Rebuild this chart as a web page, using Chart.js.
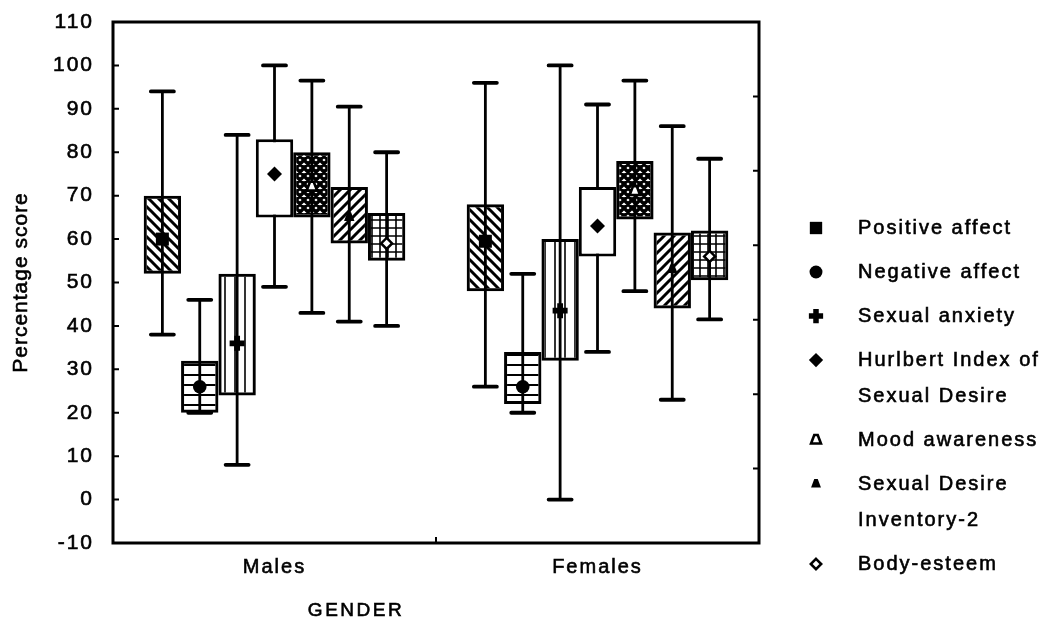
<!DOCTYPE html>
<html>
<head>
<meta charset="utf-8">
<script src="https://cdn.jsdelivr.net/npm/chart.js@4.4.1/dist/chart.umd.min.js"></script>
<style>
  html, body { margin: 0; padding: 0; background: #fff; }
  #wrap { width: 1057px; height: 633px; position: relative; }
</style>
</head>
<body>
<div id="wrap"><canvas id="chart"></canvas></div>
<script>
// groups on the x axis
const categories = ['Males', 'Females'];

// one entry per measure, in drawing order
const measures = [
  'Positive affect',
  'Negative affect',
  'Sexual anxiety',
  'Hurlbert Index of\nSexual Desire',
  'Mood awareness',
  'Sexual Desire\nInventory-2',
  'Body-esteem'
];

const maleBoxLow      = [52, 20, 24, 65, 65, 59, 55];
const maleBoxHigh     = [70, 32, 52, 83, 80, 72, 66];
const maleWhiskLow    = [38, 20, 8, 49, 43, 41, 40];
const maleWhiskHigh   = [94, 46, 84, 100, 96.5, 90.5, 80];
const maleMarker      = [60, 26, 36, 75, 72, 65, 59];

const femaleBoxLow    = [48, 22, 32, 56, 64.5, 44, 50.5];
const femaleBoxHigh   = [68, 34, 60, 72, 78, 61.5, 62];
const femaleWhiskLow  = [26, 20, 0, 34, 48, 23, 41.5];
const femaleWhiskHigh = [96, 52, 100, 91, 96.5, 86, 78.5];
const femaleMarker    = [59.5, 26, 43.5, 63, 71, 53, 56];

const yMin = -10;
const yMax = 110;
const yStep = 10;

const FONT = '"Liberation Sans", Arial, Helvetica, sans-serif';

// fill and marker style per measure
const fills   = ['diagDown', 'horiz', 'vert', 'white', 'cross', 'diagUp', 'grid'];
const markers = ['square', 'circle', 'plus', 'diamond', 'triOpen', 'tri', 'diamondOpen'];

function makePattern(kind) {
  if (kind === 'white') return '#ffffff';
  const s = kind === 'cross' ? 8 : (kind === 'grid' ? 8 : 10);
  const c = document.createElement('canvas');
  c.width = s; c.height = s;
  const g = c.getContext('2d');
  g.strokeStyle = '#000';
  g.lineCap = 'square';
  g.beginPath();
  if (kind === 'diagDown' || kind === 'cross') {
    for (let k = -s; k <= s; k += s) { g.moveTo(k, 0); g.lineTo(k + s, s); }
  }
  if (kind === 'diagUp' || kind === 'cross') {
    for (let k = -s; k <= s; k += s) { g.moveTo(k, s); g.lineTo(k + s, 0); }
  }
  if (kind === 'horiz' || kind === 'grid') { g.moveTo(0, s / 2); g.lineTo(s, s / 2); }
  if (kind === 'vert' || kind === 'grid') { g.moveTo(s / 2, 0); g.lineTo(s / 2, s); }
  g.lineWidth = kind === 'cross' ? 3.4 : (kind === 'diagDown' || kind === 'diagUp') ? 3 : (kind === 'horiz' ? 2 : 1.6);
  g.stroke();
  const tmp = document.createElement('canvas').getContext('2d');
  return tmp.createPattern(c, 'repeat');
}

function drawMarker(ctx, kind, x, y, scale) {
  const k = scale || 1;
  ctx.save();
  ctx.fillStyle = '#000';
  ctx.strokeStyle = '#000';
  ctx.beginPath();
  if (kind === 'square') {
    const h = 6.5 * k;
    ctx.rect(x - h, y - h, 2 * h, 2 * h);
    ctx.fill();
  } else if (kind === 'circle') {
    ctx.arc(x, y, 6.8 * k, 0, Math.PI * 2);
    ctx.fill();
  } else if (kind === 'plus') {
    const a = 7.5 * k, t = 2.9 * k;
    ctx.rect(x - a, y - t, 2 * a, 2 * t);
    ctx.rect(x - t, y - a, 2 * t, 2 * a);
    ctx.fill();
  } else if (kind === 'diamond' || kind === 'diamondOpen') {
    const a = (kind === 'diamond' ? 7.5 : 5.5) * k;
    ctx.moveTo(x, y - a); ctx.lineTo(x + a, y); ctx.lineTo(x, y + a); ctx.lineTo(x - a, y);
    ctx.closePath();
    if (kind === 'diamond') { ctx.fill(); }
    else { ctx.fillStyle = '#fff'; ctx.fill(); ctx.lineWidth = 2.5; ctx.stroke(); }
  } else if (kind === 'tri' || kind === 'triOpen') {
    const a = 5.2 * k;
    ctx.moveTo(x - a * 0.35, y - a); ctx.lineTo(x + a * 0.35, y - a);
    ctx.lineTo(x + a, y + a * 0.7); ctx.lineTo(x - a, y + a * 0.7);
    ctx.closePath();
    if (kind === 'tri') { ctx.fill(); }
    else { ctx.fillStyle = '#fff'; ctx.fill(); ctx.lineWidth = 2.6; ctx.stroke(); }
  }
  ctx.restore();
}

const datasets = measures.map((m, i) => ({
  label: m,
  data: [[maleBoxLow[i], maleBoxHigh[i]], [femaleBoxLow[i], femaleBoxHigh[i]]],
  whiskLow: [maleWhiskLow[i], femaleWhiskLow[i]],
  whiskHigh: [maleWhiskHigh[i], femaleWhiskHigh[i]],
  marker: [maleMarker[i], femaleMarker[i]],
  markerKind: markers[i],
  backgroundColor: makePattern(fills[i]),
  borderColor: '#000',
  borderWidth: 3,
  borderSkipped: false,
  barPercentage: 1.0,
  categoryPercentage: 0.81
}));

function boldText(ctx, text, x, y) {
  ctx.fillText(text, x, y);
  ctx.strokeText(text, x, y);
}

const boxPlotParts = {
  id: 'boxPlotParts',
  beforeUpdate(chart) { chart.ctx.letterSpacing = '2px'; },
  beforeDraw(chart) { chart.ctx.letterSpacing = '2px'; },
  beforeDatasetsDraw(chart) {
    const ctx = chart.ctx, y = chart.scales.y;
    ctx.save();
    ctx.strokeStyle = '#000';
    chart.data.datasets.forEach((ds, i) => {
      chart.getDatasetMeta(i).data.forEach((bar, j) => {
        const top = y.getPixelForValue(ds.whiskHigh[j]);
        const bot = y.getPixelForValue(ds.whiskLow[j]);
        ctx.lineWidth = 2.8;
        ctx.beginPath();
        ctx.moveTo(bar.x, top); ctx.lineTo(bar.x, bot);
        ctx.stroke();
        ctx.lineWidth = 3.8;
        ctx.lineCap = 'round';
        ctx.beginPath();
        ctx.moveTo(bar.x - 11.5, top); ctx.lineTo(bar.x + 11.5, top);
        ctx.moveTo(bar.x - 11.5, bot); ctx.lineTo(bar.x + 11.5, bot);
        ctx.stroke();
        ctx.lineCap = 'butt';
      });
    });
    ctx.restore();
  },
  afterDatasetsDraw(chart) {
    const ctx = chart.ctx, y = chart.scales.y;
    chart.data.datasets.forEach((ds, i) => {
      chart.getDatasetMeta(i).data.forEach((bar, j) => {
        drawMarker(ctx, ds.markerKind, bar.x, y.getPixelForValue(ds.marker[j]), 1);
      });
    });
  },
  afterDraw(chart) {
    const ctx = chart.ctx, a = chart.chartArea;
    const y = chart.scales.y, y2 = chart.scales.y2, x = chart.scales.x;
    ctx.save();
    ctx.strokeStyle = '#000';
    ctx.lineWidth = 3;
    ctx.strokeRect(a.left, a.top, a.right - a.left, a.bottom - a.top);
    ctx.lineWidth = 2;
    ctx.beginPath();
    y.ticks.forEach(t => {
      if (t.value === yMin || t.value === yMax) return;
      const py = y.getPixelForValue(t.value);
      ctx.moveTo(a.left, py); ctx.lineTo(a.left + 6, py);
    });
    y2.ticks.forEach(t => {
      if (t.value === y2.min || t.value === y2.max) return;
      const py = y2.getPixelForValue(t.value);
      ctx.moveTo(a.right, py); ctx.lineTo(a.right - 6, py);
    });
    const mid = x.getPixelForValue(0.5);
    ctx.moveTo(mid, a.bottom); ctx.lineTo(mid, a.bottom - 6);
    ctx.stroke();

    // axis titles
    ctx.fillStyle = '#000';
    ctx.lineWidth = 0.6;
    ctx.font = '21px ' + FONT;
    ctx.letterSpacing = '1px';
    ctx.textAlign = 'center';
    ctx.textBaseline = 'middle';
    ctx.save();
    ctx.translate(21, (a.top + a.bottom) / 2);
    ctx.rotate(-Math.PI / 2);
    boldText(ctx, 'Percentage score', 0, 0);
    ctx.restore();
    ctx.font = '19px ' + FONT;
    ctx.letterSpacing = '2.5px';
    boldText(ctx, 'GENDER', 356, 611);

    // legend
    ctx.font = '20px ' + FONT;
    ctx.letterSpacing = '2px';
    ctx.textAlign = 'left';
    let ly = 228;
    chart.data.datasets.forEach(ds => {
      drawMarker(ctx, ds.markerKind, 816, ly, 0.95);
      const lines = ds.label.split('\n');
      lines.forEach((ln, k) => boldText(ctx, ln, 858, ly + k * 36));
      ly += (lines.length - 1) * 36 + 44;
    });
    ctx.restore();
  }
};

new Chart(document.getElementById('chart'), {
  type: 'bar',
  data: { labels: categories, datasets: datasets },
  plugins: [boxPlotParts],
  options: {
    responsive: true,
    maintainAspectRatio: false,
    animation: false,
    barPercentage: 1.0,
    categoryPercentage: 0.81,
    datasets: { bar: { barPercentage: 1.0, categoryPercentage: 0.81 } },
    layout: { padding: { left: 0, right: 298, top: 22, bottom: 0 } },
    plugins: { legend: { display: false }, tooltip: { enabled: false } },
    scales: {
      x: {
        grid: { display: false, drawTicks: false },
        border: { display: false },
        ticks: { color: '#000', padding: 12, textStrokeColor: '#000', textStrokeWidth: 0.6, font: { family: FONT, size: 20 } },
        afterFit(s) { s.height = 90; s.paddingLeft = 0; s.paddingRight = 0; }
      },
      y: {
        min: yMin, max: yMax,
        grid: { display: false, drawTicks: false },
        border: { display: false },
        ticks: { stepSize: yStep, color: '#000', padding: 19, textStrokeColor: '#000', textStrokeWidth: 0.6, font: { family: FONT, size: 21 } },
        afterFit(s) { s.width = 113; s.paddingTop = 0; s.paddingBottom = 0; }
      },
      y2: {
        position: 'right',
        min: 0, max: 7,
        grid: { display: false, drawTicks: false },
        border: { display: false },
        ticks: { stepSize: 1, display: false },
        afterFit(s) { s.width = 0; s.paddingTop = 0; s.paddingBottom = 0; }
      }
    }
  }
});
</script>
</body>
</html>
